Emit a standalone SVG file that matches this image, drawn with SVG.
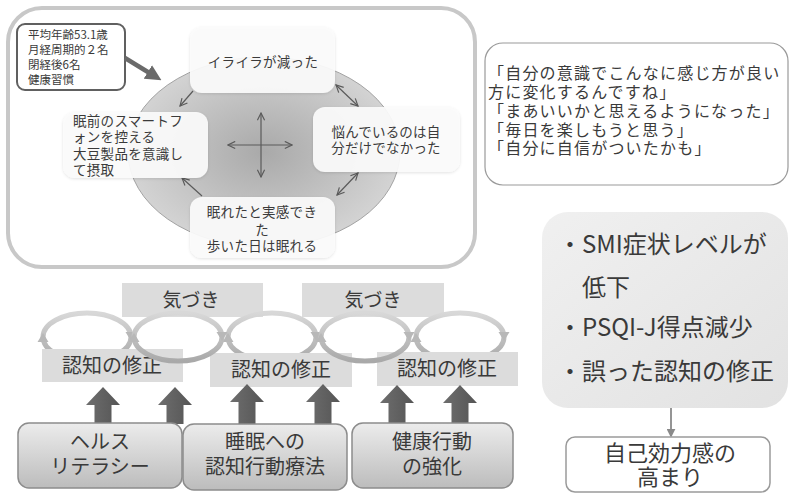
<svg xmlns="http://www.w3.org/2000/svg" width="789" height="501" viewBox="0 0 789 501">
<defs>
<style>
text{font-family:"Noto Sans CJK JP","Noto Sans CJK SC",sans-serif;fill:#3a3a3a}
.t12{font-size:11.5px}
.t13{font-size:13.5px}
.t16{font-size:16px;letter-spacing:1.2px}
.t19{font-size:19px}
.t20{font-size:20px}
.t23{font-size:22px}
.t24{font-size:24px}
.mid{text-anchor:middle}
.cbox{fill:#fbfbfb;fill-opacity:0.93;filter:url(#sh)}
.thin{stroke:#5a5a5a;stroke-width:1.2;fill:none}
.gbox{fill:#dcdcdc}
.ring{fill:none;stroke:url(#rg);stroke-width:5}
.rh{fill:#b8b8b8}
.up{fill:url(#ug)}
.bbox{fill:url(#bg);stroke:#8c8c8c;stroke-width:1.5}
</style>
<radialGradient id="eg" cx="0.5" cy="0.5" r="0.5">
<stop offset="0" stop-color="#a9a9a9"/>
<stop offset="1" stop-color="#d3d3d3"/>
</radialGradient>
<linearGradient id="rg" x1="0" y1="0" x2="0" y2="1">
<stop offset="0" stop-color="#d8d8d8"/>
<stop offset="1" stop-color="#a9a9a9"/>
</linearGradient>
<linearGradient id="ug" x1="0" y1="0" x2="1" y2="0">
<stop offset="0" stop-color="#6e6e6e"/>
<stop offset="1" stop-color="#555"/>
</linearGradient>
<linearGradient id="bg" x1="0" y1="0" x2="0" y2="1">
<stop offset="0" stop-color="#ececec"/>
<stop offset="1" stop-color="#bcbcbc"/>
</linearGradient>
<linearGradient id="pg" x1="0" y1="0" x2="1" y2="1">
<stop offset="0" stop-color="#f0f0f0"/>
<stop offset="1" stop-color="#e2e2e2"/>
</linearGradient>
<filter id="sh" x="-10%" y="-10%" width="120%" height="120%">
<feDropShadow dx="0" dy="1" stdDeviation="1.5" flood-color="#000" flood-opacity="0.12"/>
</filter>
<marker id="oa" viewBox="0 0 10 10" refX="9" refY="5" markerWidth="9" markerHeight="9" markerUnits="userSpaceOnUse" orient="auto-start-reverse">
<path d="M1,1 L9,5 L1,9" fill="none" stroke="#5a5a5a" stroke-width="1.3"/>
</marker>
<marker id="ta" viewBox="0 0 10 10" refX="6" refY="5" markerWidth="16" markerHeight="16" markerUnits="userSpaceOnUse" orient="auto">
<path d="M0,0 L10,5 L0,10 Z" fill="#6a6a6a"/>
</marker>
<marker id="da" viewBox="0 0 10 10" refX="8" refY="5" markerWidth="9" markerHeight="9" markerUnits="userSpaceOnUse" orient="auto">
<path d="M0,0 L10,5 L0,10 Z" fill="#8a8a8a"/>
</marker>
</defs>

<g id="panel">
<rect x="8" y="8" width="467" height="259" rx="34" fill="#fff" stroke="#c8c8c8" stroke-width="4"/>
<ellipse cx="264" cy="152" rx="136" ry="95" fill="url(#eg)" stroke="#a3a3a3" stroke-width="1"/>
</g>

<g id="info">
<rect x="17" y="24" width="108" height="66" rx="8" fill="#fff" stroke="#606060" stroke-width="2"/>
<text class="t12" x="28" y="39">平均年齢53.1歳</text>
<text class="t12" x="28" y="54">月経周期的２名</text>
<text class="t12" x="28" y="69">閉経後6名</text>
<text class="t12" x="28" y="84">健康習慣</text>
</g>

<g id="connectors">
<line x1="125" y1="58" x2="156" y2="77" stroke="#6a6a6a" stroke-width="4.5" marker-end="url(#ta)"/>
<line class="thin" x1="228" y1="145" x2="292" y2="145" marker-start="url(#oa)" marker-end="url(#oa)"/>
<line class="thin" x1="261" y1="113" x2="261" y2="177" marker-start="url(#oa)" marker-end="url(#oa)"/>
<line class="thin" x1="193" y1="91" x2="180" y2="106" marker-end="url(#oa)"/>
<line class="thin" x1="336" y1="85" x2="358" y2="106" marker-start="url(#oa)" marker-end="url(#oa)"/>
<line class="thin" x1="358" y1="173" x2="337" y2="195" marker-start="url(#oa)" marker-end="url(#oa)"/>
<line class="thin" x1="202" y1="196" x2="182" y2="178" marker-end="url(#oa)"/>
<line x1="671" y1="408" x2="671" y2="436" stroke="#8a8a8a" stroke-width="1.8" marker-end="url(#da)"/>
</g>

<g id="n-top">
<rect class="cbox" x="190" y="27" width="145" height="66" rx="12"/>
<text class="t13 mid" x="263" y="67" letter-spacing="0.3">イライラが減った</text>
</g>
<g id="n-left">
<rect class="cbox" x="63" y="112" width="145" height="66" rx="12"/>
<text class="t13" x="73" y="126" letter-spacing="0.3">眠前のスマートフ</text>
<text class="t13" x="73" y="142" letter-spacing="0.3">ォンを控える</text>
<text class="t13" x="73" y="159" letter-spacing="0.3">大豆製品を意識し</text>
<text class="t13" x="73" y="175" letter-spacing="0.3">て摂取</text>
</g>
<g id="n-right">
<rect class="cbox" x="313" y="107" width="147" height="65" rx="12"/>
<text class="t13 mid" x="386" y="137" letter-spacing="0.2">悩んでいるのは自</text>
<text class="t13 mid" x="386" y="153" letter-spacing="0.2">分だけでなかった</text>
</g>
<g id="n-bottom">
<rect class="cbox" x="190" y="197" width="145" height="61" rx="12"/>
<text class="t13 mid" x="262" y="217" letter-spacing="0.3">眠れたと実感でき</text>
<text class="t13 mid" x="262" y="235">た</text>
<text class="t13 mid" x="262" y="251" letter-spacing="0.3">歩いた日は眠れる</text>
</g>

<g id="quotes">
<rect x="485" y="43" width="303" height="142" rx="18" fill="#fff" stroke="#9a9a9a" stroke-width="1.2"/>
<text class="t16" x="488" y="79">「自分の意識でこんなに感じ方が良い</text>
<text class="t16" x="488" y="98">方に変化するんですね」</text>
<text class="t16" x="488" y="117">「まあいいかと思えるようになった」</text>
<text class="t16" x="488" y="135.5">「毎日を楽しもうと思う」</text>
<text class="t16" x="488" y="154">「自分に自信がついたかも」</text>
</g>

<g id="results">
<rect x="542" y="212" width="246" height="196" rx="26" fill="url(#pg)"/>
<text class="t24" x="558" y="253">・SMI症状レベルが</text>
<text class="t24" x="582" y="296">低下</text>
<text class="t24" x="558" y="336">・PSQI-J得点減少</text>
<text class="t24" x="558" y="380">・誤った認知の修正</text>
</g>

<g id="efficacy">
<rect x="566" y="437" width="204" height="55" rx="9" fill="#fff" stroke="#9a9a9a" stroke-width="1.5"/>
<text class="t23 mid" x="670" y="461">自己効力感の</text>
<text class="t23 mid" x="670" y="485">高まり</text>
</g>

<g id="awareness1">
<rect class="gbox" x="122" y="283" width="141" height="34"/>
<text class="t19 mid" x="191" y="307">気づき</text>
</g>
<g id="awareness2">
<rect class="gbox" x="302" y="283" width="142" height="34"/>
<text class="t19 mid" x="373" y="307">気づき</text>
</g>

<g id="rings-a">
<ellipse class="ring" cx="87" cy="337" rx="44" ry="24"/>
<path class="rh" d="M125.5,332 L136.5,332 L131,341 Z M37.5,342 L48.5,342 L43,333 Z"/>
<ellipse class="ring" cx="272" cy="337" rx="44" ry="24"/>
<path class="rh" d="M310.5,332 L321.5,332 L316,341 Z M222.5,342 L233.5,342 L228,333 Z"/>
<ellipse class="ring" cx="460" cy="337" rx="44" ry="24"/>
<path class="rh" d="M498.5,332 L509.5,332 L504,341 Z M410.5,342 L421.5,342 L416,333 Z"/>
</g>

<g id="correction1">
<rect class="gbox" x="42" y="349" width="141" height="33"/>
<text class="t20 mid" x="112" y="373">認知の修正</text>
</g>
<g id="correction2">
<rect class="gbox" x="210" y="353" width="142" height="34"/>
<text class="t20 mid" x="281" y="377">認知の修正</text>
</g>
<g id="correction3">
<rect class="gbox" x="377" y="352" width="141" height="34"/>
<text class="t20 mid" x="447" y="376">認知の修正</text>
</g>

<g id="rings-b">
<ellipse class="ring" cx="178" cy="337" rx="44" ry="24"/>
<path class="rh" d="M216.5,332 L227.5,332 L222,341 Z M128.5,342 L139.5,342 L134,333 Z"/>
<ellipse class="ring" cx="365" cy="337" rx="44" ry="24"/>
<path class="rh" d="M403.5,332 L414.5,332 L409,341 Z M315.5,342 L326.5,342 L321,333 Z"/>
</g>

<g id="up-arrows">
<path class="up" d="M103,387 L120,405 L111.5,405 L111.5,424 L94.5,424 L94.5,405 L86,405 Z"/>
<path class="up" d="M175,387 L192,405 L183.5,405 L183.5,424 L166.5,424 L166.5,405 L158,405 Z"/>
<path class="up" d="M247,384 L264,402 L255.5,402 L255.5,424 L238.5,424 L238.5,402 L230,402 Z"/>
<path class="up" d="M323,384 L340,402 L331.5,402 L331.5,424 L314.5,424 L314.5,402 L306,402 Z"/>
<path class="up" d="M397,385 L414,403 L405.5,403 L405.5,424 L388.5,424 L388.5,403 L380,403 Z"/>
<path class="up" d="M460,385 L477,403 L468.5,403 L468.5,424 L451.5,424 L451.5,403 L443,403 Z"/>
</g>

<g id="health-literacy">
<rect class="bbox" x="18" y="423" width="164" height="65" rx="11"/>
<text class="t20 mid" x="100" y="449">ヘルス</text>
<text class="t20 mid" x="100" y="474">リテラシー</text>
</g>
<g id="cbt-i">
<rect class="bbox" x="183" y="424" width="164" height="66" rx="11"/>
<text class="t20 mid" x="265" y="449">睡眠への</text>
<text class="t20 mid" x="265" y="474">認知行動療法</text>
</g>
<g id="health-behavior">
<rect class="bbox" x="352" y="423" width="161" height="65" rx="11"/>
<text class="t20 mid" x="432" y="449">健康行動</text>
<text class="t20 mid" x="432" y="474">の強化</text>
</g>
</svg>
